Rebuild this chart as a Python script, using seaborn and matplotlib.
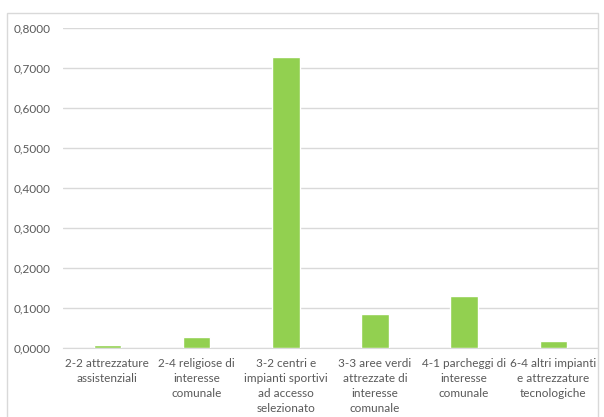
import matplotlib
matplotlib.use("Agg")
import matplotlib.pyplot as plt
import seaborn as sns
import pandas as pd
from matplotlib.patches import Rectangle

categories = [
    "2-2 attrezzature\nassistenziali",
    "2-4 religiose di\ninteresse\ncomunale",
    "3-2 centri e\nimpianti sportivi\nad accesso\nselezionato",
    "3-3 aree verdi\nattrezzate di\ninteresse\ncomunale",
    "4-1 parcheggi di\ninteresse\ncomunale",
    "6-4 altri impianti\ne attrezzature\ntecnologiche",
]
values = [0.009, 0.028, 0.727, 0.085, 0.130, 0.019]
yticks = [0.0, 0.1, 0.2, 0.3, 0.4, 0.5, 0.6, 0.7, 0.8]

data = pd.DataFrame({"categoria": categories, "valore": values})

sns.set_style("white")
plt.rcParams["font.family"] = ["Lato", "DejaVu Sans"]

fig = plt.figure(figsize=(6.04, 4.17), dpi=100)
ax = fig.add_axes([0.104, 0.165, 0.886, 0.768])

sns.barplot(data=data, x="categoria", y="valore", color="#92D050",
            width=0.31, saturation=1, ax=ax, zorder=3)

ax.set_ylim(0, 0.8)
ax.set_yticks(yticks)
ax.set_yticklabels([f"{v:.4f}".replace(".", ",") for v in yticks])
ax.yaxis.grid(True, color="#D9D9D9", linewidth=1, zorder=0)
ax.set_xlabel("")
ax.set_ylabel("")
for s in ["top", "right", "left"]:
    ax.spines[s].set_visible(False)
ax.spines["bottom"].set_color("#D9D9D9")
ax.tick_params(axis="both", length=0, labelsize=8.5, colors="#595959", pad=7)
ax.tick_params(axis="y", pad=9)
for lbl in ax.get_xticklabels():
    lbl.set_linespacing(1.45)
    lbl.set_va("top")

fig.patches.append(Rectangle((7 / 604, -0.01), 591 / 604, 1 - 13 / 417 + 0.01,
                             transform=fig.transFigure, fill=False,
                             edgecolor="#D9D9D9", linewidth=1))

fig.savefig("out.png", dpi=100)
